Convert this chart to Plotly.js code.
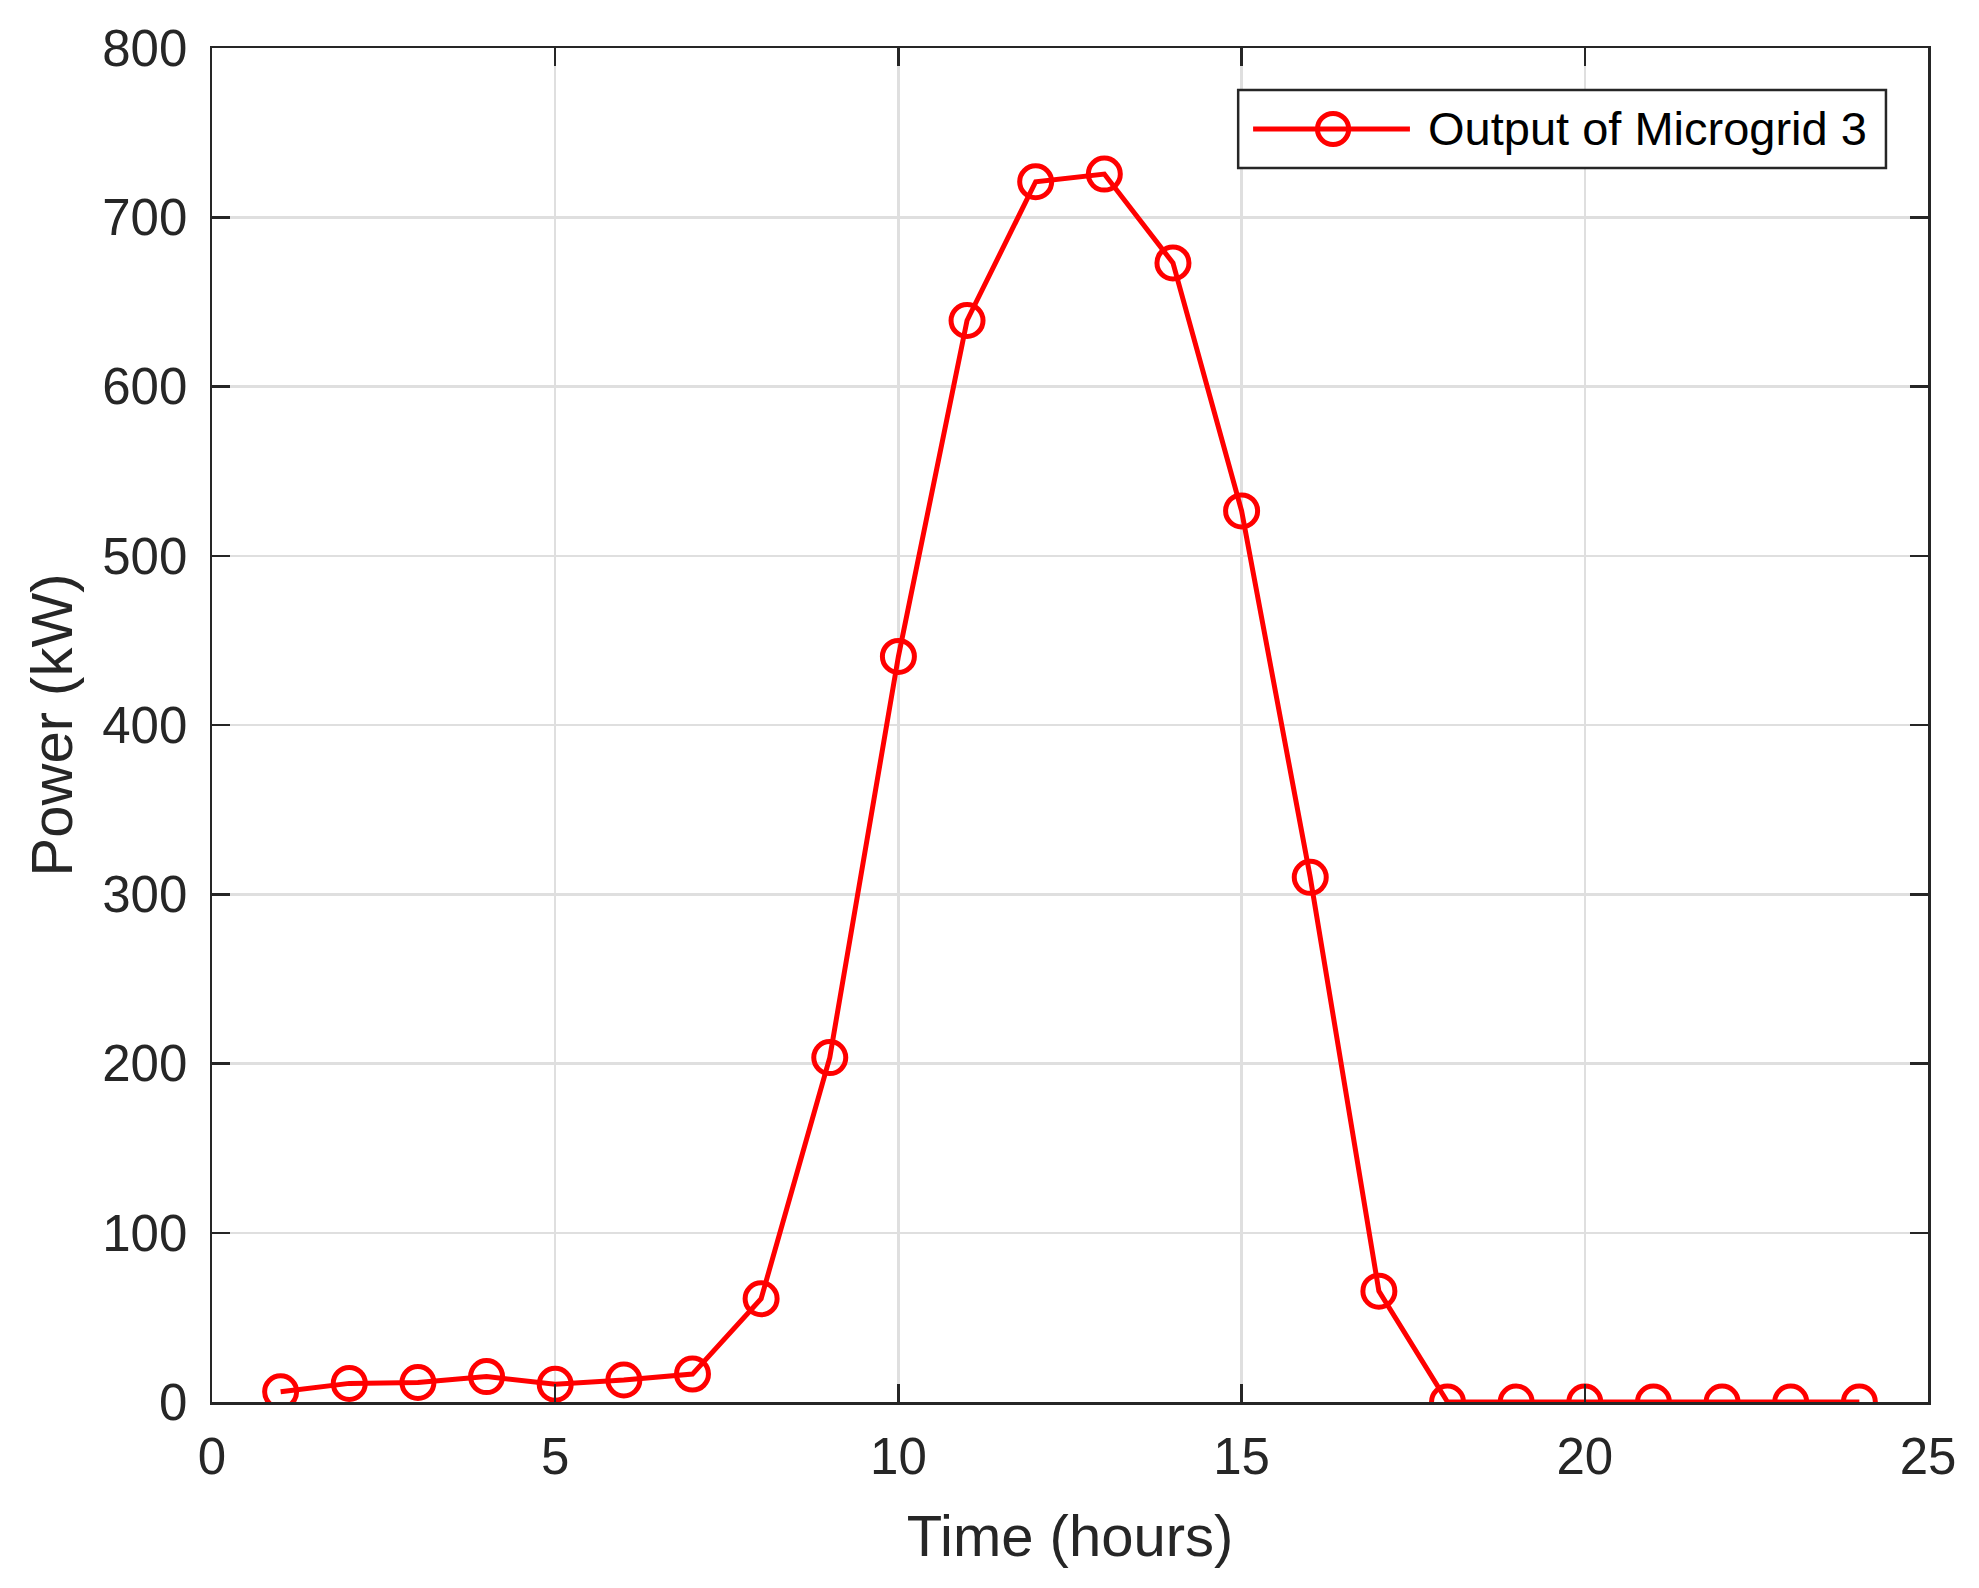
<!DOCTYPE html>
<html>
<head>
<meta charset="utf-8">
<script src="https://cdn.plot.ly/plotly-3.0.1.min.js"></script>
<style>
  html, body { margin: 0; padding: 0; background: #fff; }
  #chart { width: 1979px; height: 1588px; }
</style>
</head>
<body>
<div id="chart"></div>
<script>
// Hourly output of microgrid 3 (kW)
var hours = [1, 2, 3, 4, 5, 6, 7, 8, 9, 10, 11, 12, 13, 14, 15, 16, 17, 18, 19, 20, 21, 22, 23, 24];
var power = [6, 11, 11.5, 15, 10.5, 13, 16.5, 61, 203.5, 440.5, 639, 721, 725.5, 673, 526.5, 310, 65.5, 0, 0, 0, 0, 0, 0, 0];
var seriesName = 'Output of Microgrid 3';

var xTicks = [0, 5, 10, 15, 20, 25];
var yTicks = [0, 100, 200, 300, 400, 500, 600, 700, 800];

var axisColor = '#262626';
var gridColor = '#dfdfdf';
var red = '#ff0000';

var trace = {
  x: hours,
  y: power,
  type: 'scatter',
  mode: 'lines+markers',
  name: seriesName,
  line: { color: red, width: 5 },
  marker: {
    symbol: 'circle-open',
    size: 32,
    color: red,
    line: { color: red, width: 5 }
  }
};

// MATLAB-style legend box drawn in paper coords (big marker like the original)
var leg = { x0: 0.598, x1: 0.9755, y0: 0.9114, y1: 0.969 };
var legY = (leg.y0 + leg.y1) / 2;
var shapes = [
  { type: 'rect', xref: 'paper', yref: 'paper', x0: leg.x0, x1: leg.x1, y0: leg.y0, y1: leg.y1,
    fillcolor: '#ffffff', line: { color: axisColor, width: 2.5 }, layer: 'above' },
  { type: 'line', xref: 'paper', yref: 'paper', x0: 0.6067, x1: 0.6981, y0: legY, y1: legY,
    line: { color: red, width: 5 }, layer: 'above' },
  { type: 'circle', xref: 'paper', yref: 'paper', x0: 0.6533 - 0.0091, x1: 0.6533 + 0.0091,
    y0: legY - 0.0115, y1: legY + 0.0115, line: { color: red, width: 5 }, layer: 'above' }
];
var annotations = [
  { xref: 'paper', yref: 'paper', x: 0.7075, y: legY, xanchor: 'left', yanchor: 'middle',
    text: seriesName, showarrow: false, font: { size: 47, color: '#000000' } }
];

var layout = {
  width: 1979,
  height: 1588,
  margin: { l: 212, r: 51, t: 48, b: 186 },
  paper_bgcolor: '#ffffff',
  plot_bgcolor: '#ffffff',
  font: { family: '"Liberation Sans", Arial, sans-serif', color: axisColor, size: 51 },
  showlegend: false,
  shapes: shapes,
  annotations: annotations,
  xaxis: {
    range: [0, 25],
    tickvals: xTicks,
    ticktext: xTicks.map(String),
    ticks: 'inside',
    ticklen: 18,
    tickwidth: 2.5,
    tickcolor: axisColor,
    ticklabelstandoff: 8,
    showline: true,
    linecolor: axisColor,
    linewidth: 2.5,
    mirror: 'ticks',
    showgrid: true,
    gridcolor: gridColor,
    gridwidth: 2.5,
    zeroline: false,
    tickfont: { size: 51, color: axisColor },
    title: { text: 'Time (hours)', font: { size: 58, color: axisColor }, standoff: 32 }
  },
  yaxis: {
    range: [0, 800],
    tickvals: yTicks,
    ticktext: yTicks.map(String),
    ticks: 'inside',
    ticklen: 18,
    tickwidth: 2.5,
    tickcolor: axisColor,
    ticklabelstandoff: 12,
    showline: true,
    linecolor: axisColor,
    linewidth: 2.5,
    mirror: 'ticks',
    showgrid: true,
    gridcolor: gridColor,
    gridwidth: 2.5,
    zeroline: false,
    tickfont: { size: 51, color: axisColor },
    title: { text: 'Power (kW)', font: { size: 58, color: axisColor }, standoff: 11 }
  }
};

Plotly.newPlot('chart', [trace], layout, { staticPlot: true, displayModeBar: false });
</script>
</body>
</html>
